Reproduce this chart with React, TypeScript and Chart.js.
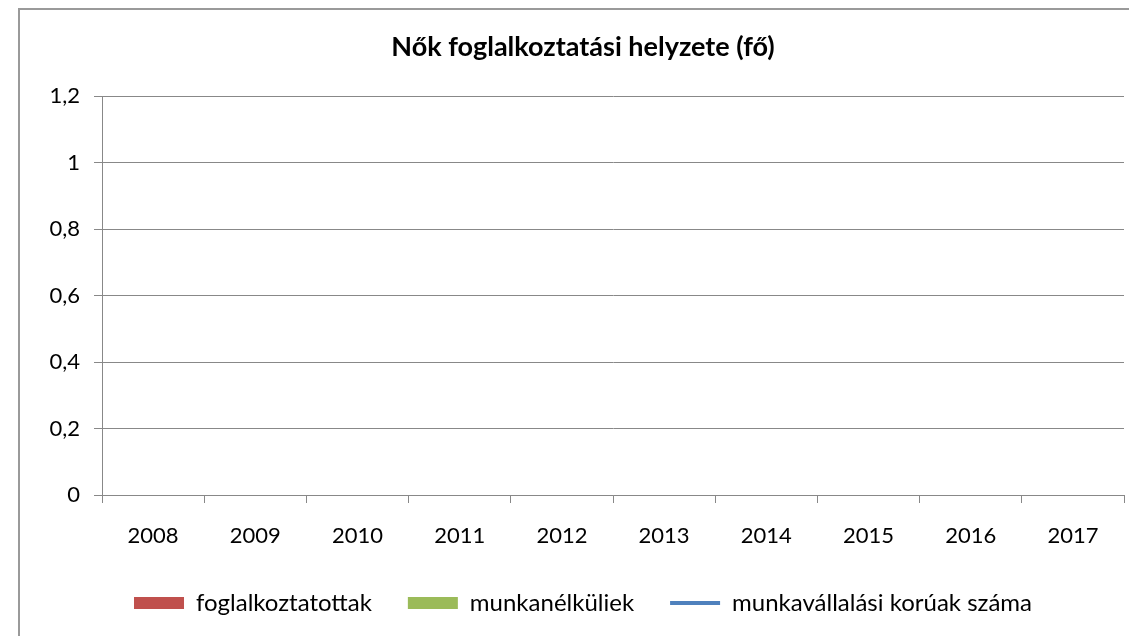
import React, { useEffect, useRef } from "react";
import { Chart, registerables } from "chart.js";

Chart.register(...registerables);

const categories = ["2008", "2009", "2010", "2011", "2012", "2013", "2014", "2015", "2016", "2017"];
const employed: (number | null)[] = [null, null, null, null, null, null, null, null, null, null];
const unemployed: (number | null)[] = [null, null, null, null, null, null, null, null, null, null];
const workingAge: (number | null)[] = [null, null, null, null, null, null, null, null, null, null];
const seriesNames = ["foglalkoztatottak", "munkanélküliek", "munkavállalási korúak száma"];
const seriesColors = ["#C0504D", "#9BBB59", "#4F81BD"];
const titleText = "Nők foglalkoztatási helyzete (fő)";

const FONT = "Lato, 'Open Sans', sans-serif";

const framePlugin = {
  id: "frame",
  beforeDraw(chart: any) {
    const ctx = chart.ctx;
    ctx.save();
    ctx.fillStyle = "#ffffff";
    ctx.fillRect(0, 0, chart.width, chart.height);
    ctx.strokeStyle = "#9a9a9a";
    ctx.lineWidth = 2;
    ctx.beginPath();
    ctx.moveTo(19, chart.height);
    ctx.lineTo(19, 9);
    ctx.lineTo(chart.width, 9);
    ctx.stroke();
    ctx.restore();
  },
};

export default function App() {
  const ref = useRef<HTMLCanvasElement>(null);
  useEffect(() => {
    if (!ref.current) return;
    const chart = new Chart(ref.current, {
      type: "bar",
      data: {
        labels: categories,
        datasets: [
          { type: "bar", label: seriesNames[0], data: employed, backgroundColor: seriesColors[0], order: 2 },
          { type: "bar", label: seriesNames[1], data: unemployed, backgroundColor: seriesColors[1], order: 2 },
          {
            type: "line",
            label: seriesNames[2],
            data: workingAge,
            borderColor: seriesColors[2],
            backgroundColor: seriesColors[2],
            borderWidth: 4,
            pointRadius: 0,
            order: 1,
          } as any,
        ],
      },
      options: {
        responsive: false,
        animation: false,
        layout: { padding: { top: 10, left: 42, right: 5, bottom: 11 } },
        plugins: {
          tooltip: { enabled: false },
          title: {
            display: true,
            text: titleText,
            color: "#000000",
            font: { family: FONT, size: 27, weight: "bold" },
            padding: { top: 21, bottom: 33 },
          },
          legend: {
            position: "bottom",
            labels: {
              color: "#000000",
              font: { family: FONT, size: 24 },
              usePointStyle: true,
              pointStyleWidth: 50,
              boxHeight: 12,
              padding: 36,
              generateLabels: () =>
                seriesNames.map((name, i) => ({
                  text: name,
                  fillStyle: seriesColors[i],
                  strokeStyle: seriesColors[i],
                  lineWidth: i === 2 ? 4 : 0,
                  pointStyle: i === 2 ? "line" : "rect",
                  fontColor: "#000000",
                  datasetIndex: i,
                  hidden: false,
                })) as any,
            },
          },
        },
        scales: {
          x: {
            offset: true,
            grid: {
              offset: true,
              drawOnChartArea: false,
              drawTicks: true,
              tickLength: 8,
              color: "#888888",
            },
            border: { color: "#888888", width: 1 },
            ticks: {
              color: "#000000",
              font: { family: FONT, size: 22 },
              padding: 20,
              maxRotation: 0,
              autoSkip: false,
            },
            afterFit: (s: any) => {
              s.height = 60;
            },
          },
          y: {
            min: 0,
            max: 1.2,
            grid: { color: "#888888", tickLength: 8 },
            border: { color: "#888888", width: 1 },
            ticks: {
              stepSize: 0.2,
              color: "#000000",
              font: { family: FONT, size: 22 },
              padding: 14,
              callback: (v: any) => String(Math.round(Number(v) * 10) / 10).replace(".", ","),
            },
            afterFit: (s: any) => {
              s.width = 60;
            },
          },
        },
      },
      plugins: [framePlugin],
    });
    return () => chart.destroy();
  }, []);
  return (
    <div style={{ position: "absolute", left: 0, top: 0, width: 1129, height: 636, background: "#fff" }}>
      <canvas ref={ref} width={1129} height={636} style={{ display: "block" }} />
    </div>
  );
}
